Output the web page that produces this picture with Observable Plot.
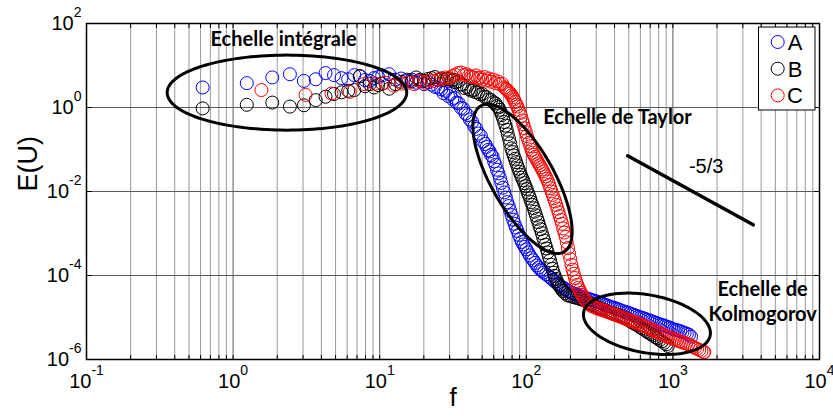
<!DOCTYPE html>
<html><head><meta charset="utf-8">
<script src="https://cdn.jsdelivr.net/npm/d3@7"></script>
<script src="https://cdn.jsdelivr.net/npm/@observablehq/plot@0.6"></script>
<style>html,body{margin:0;padding:0;background:#fff;} #chart{position:relative;width:833px;height:419px;} #chart svg{display:block;}</style>
</head><body><div id="chart"></div>
<script>
// ---- data: [f, E(U)] pairs ----
const seriesNames = ["A", "B", "C"];
const seriesColors = ["#0000ff", "#000000", "#ff0000"];

const dataA = [
[0.62,3.0],[1.24,3.8],[1.85,5.2],[2.44,6.2],[3.04,4.3],[3.66,4.7],[4.27,6.6],[4.88,5.9],[5.49,5.0],[6.10,4.7],
[6.71,5.9],[7.32,5.5],[7.93,4.5],[8.54,4.3],[9.15,5.0],[9.76,5.3],[10.4,5.8],[11.6,6.2],[12.8,4.6],[14.0,4.9],
[15.3,4.3],[16.5,4.6],[17.7,3.9],[18.9,4.2],[20.1,3.6],[21.4,4.0],[22.6,3.5],[23.8,3.1],[25.0,3.0],
[26.3,2.7],[27.2,2.2],[28.2,2.5],[29.2,1.9],[30.2,2.1],[31.3,1.6],[32.4,1.7],[33.5,1.3],[34.7,1.25],[35.9,0.98],
[37.2,0.93],[38.5,0.72],[39.8,0.66],[41.2,0.52],[42.7,0.46],[44.2,0.35],[45.7,0.31],[47.3,0.24],[49.0,0.21],[50.7,0.155],
[52.5,0.135],[53.7,0.115],[55.0,0.098],[56.2,0.09],[57.5,0.074],[58.9,0.068],[60.3,0.052],[61.7,0.043],[63.1,0.033],[64.6,0.027],
[66.1,0.021],[67.6,0.016],[69.2,0.0123],[70.8,0.0095],[72.4,0.0072],[74.1,0.0056],[75.9,0.0045],[77.6,0.0035],[79.4,0.00275],[81.3,0.00214],
[83.2,0.0017],[85.1,0.00138],[87.1,0.00115],[89.1,0.00093],[91.2,0.00076],[93.3,0.00063],[95.5,0.00055],[97.7,0.00048],[100,0.00042],[102.8,3.55e-4],
[105.7,3.0e-4],[108.6,2.6e-4],[111.7,2.3e-4],[114.8,2.0e-4],[118,1.74e-4],[121.3,1.55e-4],[124.7,1.38e-4],[128.2,1.29e-4],[131.8,1.17e-4],[136.5,1.07e-4],
[141.3,9.8e-5],[146.2,8.9e-5],[151.4,7.9e-5],[156.7,7.2e-5],[162.2,6.5e-5],[167.9,5.9e-5],[173.8,5.4e-5],[179.9,5.0e-5],[186.2,4.68e-5],[192.8,4.27e-5],
[199.5,3.98e-5],[206.5,3.8e-5],[213.8,3.63e-5],[221.3,3.47e-5],[229.1,3.31e-5],[237.1,3.16e-5],[245.5,3.09e-5],[254.1,2.92e-5],[263,2.82e-5],[272.3,2.69e-5],
[281.8,2.57e-5],[291.7,2.51e-5],[302,2.4e-5],[312.6,2.29e-5],[323.6,2.19e-5],[335,2.09e-5],[346.7,2.0e-5],[358.9,1.91e-5],[371.5,1.82e-5],[384.6,1.74e-5],
[398.1,1.7e-5],[412.1,1.62e-5],[426.6,1.55e-5],[441.6,1.48e-5],[457.1,1.41e-5],[473.2,1.35e-5],[489.8,1.32e-5],[507,1.26e-5],[524.8,1.2e-5],[543.3,1.15e-5],
[562.3,1.1e-5],[582.1,1.05e-5],[602.6,1.0e-5],[623.7,9.7e-6],[645.7,9.3e-6],[668.3,8.9e-6],[691.8,8.5e-6],[716.1,8.1e-6],[741.3,7.8e-6],[767.4,7.4e-6],
[794.3,7.1e-6],[822.2,6.8e-6],[851.1,6.6e-6],[881,6.3e-6],[912,6.0e-6],[944,5.8e-6],[977,5.5e-6],[1012,5.2e-6],[1047,5.1e-6],[1084,4.9e-6],
[1122,4.7e-6],[1161,4.5e-6],[1202,4.3e-6],[1245,4.1e-6],[1288,3.9e-6],[1330,3.5e-6]
];

const dataB = [
[0.62,0.95],[1.24,1.16],[1.85,1.31],[2.44,1.05],[3.04,1.13],[3.66,1.5],[4.27,1.8],[4.88,2.1],[5.49,2.3],[6.10,2.5],
[6.71,2.6],[7.32,5.6],[7.93,3.2],[8.54,3.6],[9.15,3.0],[9.76,3.4],[10.4,3.7],[11.6,2.8],[12.8,3.6],[14.0,4.1],
[15.3,4.6],[16.5,4.2],[17.7,5.2],[18.9,4.6],[20.1,4.3],[21.4,4.8],[22.6,5.0],[23.8,5.3],[25.0,4.6],[26.2,4.9],
[27.4,4.5],[28.7,4.8],[29.9,4.7],[31.1,4.4],[32.0,4.6],[33.1,4.0],[34.3,4.2],[35.5,3.5],[36.7,3.5],[38.0,2.9],
[39.4,3.1],[40.7,2.75],[42.2,2.5],[43.7,2.6],[45.2,2.3],[46.8,2.3],[48.4,2.05],[50.1,2.1],[51.9,1.8],[53.7,1.78],
[55.6,1.55],[57.5,1.5],[59.6,1.33],[61.7,1.25],[63.1,1.08],[64.6,1.0],[65.8,0.88],[67.0,0.77],[68.2,0.66],[69.5,0.55],
[70.8,0.45],[72.1,0.37],[73.5,0.295],[74.8,0.23],[76.2,0.18],[77.6,0.14],[79.1,0.106],[80.5,0.087],[82.0,0.072],[83.6,0.06],
[85.1,0.05],[86.7,0.042],[88.3,0.035],[89.9,0.0295],[91.6,0.025],[93.3,0.0214],[95.1,0.0186],[96.8,0.0158],[98.6,0.0135],[100.5,0.0115],
[102.3,0.0095],[104.2,0.0081],[106.2,0.0068],[108.1,0.0056],[110.2,0.0048],[112.2,0.004],[114.3,0.0033],[116.4,0.0027],[118.6,0.00224],[120.8,0.00186],
[123.0,0.0015],[125.3,0.00126],[127.6,0.00102],[130.0,8.3e-4],[132.4,6.8e-4],[134.9,5.4e-4],[137.4,4.4e-4],[140.0,3.55e-4],[142.6,2.8e-4],[145.2,2.3e-4],
[147.9,1.8e-4],[150.7,1.45e-4],[153.5,1.17e-4],[156.3,9.8e-5],[159.2,8.3e-5],[162.2,7.2e-5],[165.2,6.2e-5],[168.3,5.6e-5],[171.4,5.1e-5],[174.6,4.68e-5],
[177.8,4.27e-5],[184.1,3.8e-5],[190.5,3.39e-5],[197.2,3.27e-5],[204.2,3.16e-5],[211.3,3.05e-5],[218.8,2.95e-5],[226.5,2.85e-5],[234.4,2.75e-5],[242.7,2.66e-5],
[251.2,2.51e-5],[260,2.34e-5],[269.2,2.21e-5],[278.6,2.09e-5],[288.4,1.95e-5],[298.5,1.82e-5],[309,1.74e-5],[319.9,1.62e-5],[331.1,1.55e-5],[342.8,1.48e-5],
[354.8,1.41e-5],[367.3,1.35e-5],[380.2,1.29e-5],[393.6,1.23e-5],[407.4,1.17e-5],[421.7,1.15e-5],[436.5,1.1e-5],[451.9,1.05e-5],[467.7,9.8e-6],[484.2,9.1e-6],
[501.2,8.5e-6],[518.8,7.9e-6],[537,7.4e-6],[555.9,6.9e-6],[575.4,6.5e-6],[595.7,5.9e-6],[616.6,5.5e-6],[638.3,5.1e-6],[660.7,4.7e-6],[683.9,4.3e-6],
[707.9,4.0e-6],[732.8,3.7e-6],[758.6,3.4e-6],[785.2,3.2e-6],[812.8,2.9e-6],[841.4,2.7e-6],[871,2.5e-6],[901.6,2.3e-6],[925,2.1e-6]
];

const dataC = [
[1.56,2.6],[3.12,2.0],[4.69,2.15],[6.25,2.35],[7.81,3.6],[9.37,3.7],[10.9,3.9],[12.5,3.3],[14.1,3.7],[15.6,3.9],
[17.2,3.6],[18.7,4.3],[20.3,3.9],[21.9,4.4],[23.4,4.3],[25.0,4.6],[26.6,4.9],[28.1,5.2],[29.7,5.0],[31.2,5.6],
[32.8,6.0],[34.4,6.6],[35.9,6.8],[37.5,5.9],[39.0,6.2],[40.6,5.6],[42.2,5.4],[43.7,5.2],[45.3,5.8],[46.9,5.0],
[48.4,5.2],[50.1,4.6],[51.9,5.3],[53.7,4.4],[55.6,4.9],[57.5,4.1],[59.6,4.6],[61.7,3.8],[63.8,4.2],[66.1,3.6],
[68.4,3.7],[70.8,3.0],[72.4,2.8],[73.8,2.63],[75.2,2.45],[76.6,2.3],[78.0,2.14],[79.4,1.95],[80.9,1.74],[82.4,1.55],
[83.9,1.35],[85.5,1.17],[87.1,1.05],[88.7,0.87],[90.4,0.74],[92.0,0.62],[93.8,0.49],[95.5,0.40],[97.3,0.32],[99.1,0.26],
[100.9,0.21],[102.8,0.174],[104.7,0.145],[106.7,0.12],[108.6,0.098],[110.7,0.084],[112.7,0.075],[114.8,0.067],[116.9,0.06],[119.1,0.053],
[121.3,0.047],[123.6,0.042],[125.9,0.0376],[128.2,0.0335],[130.6,0.03],[133.0,0.026],[135.5,0.023],[138.0,0.02],[140.6,0.0174],[143.2,0.0145],
[145.9,0.012],[148.6,0.01],[151.4,0.0083],[154.2,0.0069],[157.0,0.0058],[160.0,0.0048],[162.9,0.0039],[166.0,0.0032],[169.0,0.0026],[172.2,0.0021],
[175.4,0.0017],[178.6,0.00132],[182.0,0.00105],[185.4,8.3e-4],[188.8,6.2e-4],[192.3,4.5e-4],[195.9,3.3e-4],[199.5,2.45e-4],[203.2,1.8e-4],[207.0,1.38e-4],
[210.9,1.1e-4],[214.8,8.7e-5],[218.8,7.1e-5],[222.8,6.0e-5],[227.0,5.1e-5],[231.2,4.47e-5],[235.5,3.89e-5],[239.9,3.47e-5],[245.5,3.0e-5],[251.2,2.63e-5],
[260,2.34e-5],[269.2,2.07e-5],[278.6,1.88e-5],[288.4,1.8e-5],[298.5,1.7e-5],[309,1.62e-5],[319.9,1.55e-5],[331.1,1.5e-5],[342.8,1.45e-5],[354.8,1.38e-5],
[367.3,1.32e-5],[380.2,1.26e-5],[393.6,1.2e-5],[407.4,1.15e-5],[421.7,1.1e-5],[436.5,1.05e-5],[451.9,1.0e-5],[467.7,9.5e-6],[484.2,9.1e-6],[501.2,8.7e-6],
[518.8,8.3e-6],[537,7.9e-6],[555.9,7.6e-6],[575.4,7.2e-6],[595.7,6.9e-6],[616.6,6.6e-6],[638.3,6.3e-6],[660.7,5.9e-6],[683.9,5.6e-6],[707.9,5.2e-6],
[732.8,5.0e-6],[758.6,4.7e-6],[785.2,4.5e-6],[812.8,4.2e-6],[841.4,4.0e-6],[871,3.8e-6],[901.6,3.6e-6],[933,3.4e-6],[966,3.3e-6],[1000,3.1e-6],
[1035,3.0e-6],[1072,2.9e-6],[1109,2.7e-6],[1148,2.6e-6],[1189,2.5e-6],[1230,2.4e-6],[1274,2.3e-6],[1318,2.2e-6],[1365,2.0e-6],[1413,1.9e-6],
[1462,1.8e-6],[1514,1.7e-6],[1567,1.6e-6],[1622,1.5e-6],[1637,1.5e-6]
];

// axis ticks and labels
const xMajor = [0.1, 1, 10, 100, 1000, 10000];
const xExponents = ["-1", "0", "1", "2", "3", "4"];
const yMajor = [1e-6, 1e-4, 1e-2, 1, 100];
const yExponents = ["-6", "-4", "-2", "0", "2"];

// -5/3 reference segment (f, E)
const slopeF = [491, 3530];
const slopeE = [0.0708, 0.00161];
const slopeLabel = {text: "-5/3", f: 1687, E: 0.0394};

// annotation labels
const labelTexts = ["Echelle intégrale", "Echelle de Taylor", "Echelle de", "Kolmogorov"];
const labelF = [2.21, 419, 4093, 4093];
const labelE = [40.9, 0.569, 4.57e-5, 1.15e-5];

// annotation ellipses: centre (f, E) and two half-axis vectors in decades (log f, log E)
const ellipses = [
  {f: 2.33, E: 2.26, u: [0.817, 0], v: [0, 0.893]},
  {f: 94.2, E: 0.02005, u: [0.283, -1.740], v: [-0.186, -0.367]},
  {f: 665, E: 7.08e-6, u: [0.4316, -0.276], v: [-0.0355, -0.677]}
];

// ---- build ----
const table = [];
[dataA, dataB, dataC].forEach((arr, i) => arr.forEach(([f, E]) => table.push({series: seriesNames[i], f, E})));

const ellipsePts = ellipses.flatMap((e, id) => d3.range(0, 145).map(i => {
  const t = i / 144 * 2 * Math.PI;
  const lf = Math.log10(e.f) + e.u[0] * Math.cos(t) + e.v[0] * Math.sin(t);
  const le = Math.log10(e.E) + e.u[1] * Math.cos(t) + e.v[1] * Math.sin(t);
  return {id, f: 10 ** lf, E: 10 ** le};
}));

const xMinor = d3.range(-1, 4).flatMap(p => d3.range(2, 10).map(m => m * 10 ** p));
const xAllTicks = xMinor.concat(xMajor);
const labels = labelTexts.map((t, i) => ({text: t, f: labelF[i], E: labelE[i]}));
const slopeLine = slopeF.map((f, i) => ({f, E: slopeE[i]}));

const W = 833, H = 419, mL = 86, mR = 14, mT = 23, mB = 60;

const chart = Plot.plot({
  width: W, height: H,
  marginLeft: mL, marginRight: mR, marginTop: mT, marginBottom: mB,
  style: {fontFamily: "'Liberation Sans', Arial, sans-serif", background: "#fff", overflow: "visible"},
  x: {type: "log", domain: [0.1, 1e4]},
  y: {type: "log", domain: [1e-6, 100]},
  color: {domain: seriesNames, range: seriesColors},
  marks: [
    Plot.ruleX(xMinor, {stroke: "#9a9a9a", strokeWidth: 1}),
    Plot.ruleX(xMajor, {stroke: "#5a5a5a", strokeWidth: 1}),
    Plot.ruleY(yMajor, {stroke: "#5a5a5a", strokeWidth: 1}),
    Plot.axisX({anchor: "bottom", ticks: xAllTicks, tickSize: -4, tickFormat: () => "", stroke: "#000", label: null}),
    Plot.axisX({anchor: "top", ticks: xAllTicks, tickSize: -4, tickFormat: () => "", stroke: "#000", label: null}),
    Plot.axisY({anchor: "left", ticks: yMajor, tickSize: -6, tickFormat: () => "", stroke: "#000", label: null}),
    Plot.axisY({anchor: "right", ticks: yMajor, tickSize: -6, tickFormat: () => "", stroke: "#000", label: null}),
    Plot.axisX({anchor: "bottom", ticks: xMajor, tickSize: 0, tickPadding: 14, fontSize: 20, fill: "#000",
      tickFormat: d => xExponents[xMajor.indexOf(d)], label: null}),
    Plot.axisY({anchor: "left", ticks: yMajor, tickSize: 0, tickPadding: 5, fontSize: 20, fill: "#000",
      tickFormat: d => yExponents[yMajor.indexOf(d)], label: null}),
    Plot.dot(table, {x: "f", y: "E", stroke: "series", r: 6.5, strokeWidth: 1, fill: "none"}),
    Plot.line(ellipsePts, {x: "f", y: "E", z: "id", stroke: "#000", strokeWidth: 3, curve: "linear-closed"}),
    Plot.line(slopeLine, {x: "f", y: "E", stroke: "#000", strokeWidth: 3.5}),
    Plot.text([slopeLabel], {x: "f", y: "E", text: "text", fontSize: 20, fill: "#000"}),
    Plot.text(labels, {x: "f", y: "E", text: "text", fontSize: 20, fontWeight: "bold", fontFamily: "Lato, 'Open Sans', sans-serif", fill: "#000"}),
    Plot.text(["E(U)"], {frameAnchor: "left", text: d => d, rotate: -90, dx: -58, fontSize: 27, fill: "#000"}),
    Plot.text(["f"], {frameAnchor: "bottom", text: d => d, dy: 46, fontSize: 26, fill: "#000"}),
    Plot.frame({stroke: "#000", strokeWidth: 1.5})
  ]
});

document.getElementById("chart").appendChild(chart);

// superscript exponents on tick labels
const svg = d3.select(chart);
svg.selectAll('g[aria-label="x-axis tick label"] text, g[aria-label="y-axis tick label"] text').each(function () {
  const exp = this.textContent;
  if (!exp) return;
  const t = d3.select(this);
  t.text(null);
  t.append("tspan").text("10");
  t.append("tspan").attr("dy", -13).attr("font-size", "14px").text(exp);
});

// legend inside the frame, top-right
const fr = W - mR;
const lg = svg.append("g").attr("font-family", "'Liberation Sans', Arial, sans-serif");
lg.append("rect").attr("x", fr - 60.5).attr("y", mT + 4).attr("width", 56.5).attr("height", 83)
  .attr("fill", "#fff").attr("stroke", "#000").attr("stroke-width", 1);
seriesNames.forEach((s, i) => {
  const cy = mT + 19 + i * 26.7;
  lg.append("circle").attr("cx", fr - 41.3).attr("cy", cy).attr("r", 6.5)
    .attr("fill", "none").attr("stroke", seriesColors[i]).attr("stroke-width", 1);
  lg.append("text").attr("x", fr - 24).attr("y", cy).attr("dy", "0.36em").attr("font-size", 22)
    .attr("fill", "#000").text(s);
});
</script>
</body></html>
